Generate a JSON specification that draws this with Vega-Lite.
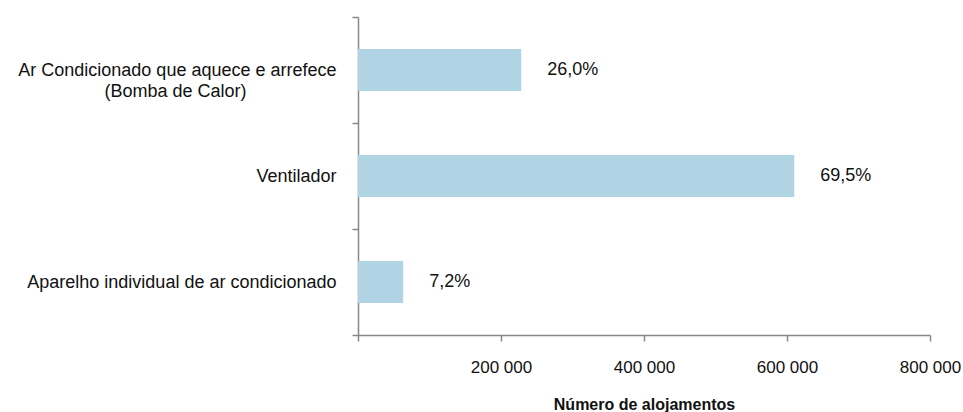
{
  "$schema": "https://vega.github.io/schema/vega-lite/v6.json",
  "autosize": {"type": "none"},
  "width": 572,
  "height": 318,
  "padding": {"left": 358, "top": 17, "right": 33, "bottom": 77},
  "background": "white",
  "config": {
    "view": {"stroke": null},
    "font": "Liberation Sans"
  },
  "data": {
    "values": [
      {"tipo": "Ar Condicionado que aquece e arrefece|(Bomba de Calor)\u00a0\u00a0\u00a0\u00a0\u00a0\u00a0\u00a0\u00a0\u00a0\u00a0\u00a0\u00a0\u00a0\u00a0\u00a0\u00a0\u00a0\u00a0\u200b", "alojamentos": 228300, "pct": "26,0%"},
      {"tipo": "Ventilador", "alojamentos": 610200, "pct": "69,5%"},
      {"tipo": "Aparelho individual de ar condicionado", "alojamentos": 63200, "pct": "7,2%"}
    ]
  },
  "encoding": {
    "y": {
      "field": "tipo",
      "type": "nominal",
      "sort": null,
      "scale": {"paddingInner": 0, "paddingOuter": 0},
      "axis": {
        "title": null,
        "domainColor": "#888888",
        "domainWidth": 1.5,
        "tickColor": "#888888",
        "tickWidth": 1.5,
        "tickSize": 6,
        "tickBand": "extent",
        "labelFontSize": 18,
        "labelColor": "#111111",
        "labelLimit": 400,
        "labelExpr": "datum.value ? split(datum.value, '|') : ''",
        "labelPadding": 16,
        "labelLineHeight": 21
      }
    }
  },
  "layer": [
    {
      "mark": {"type": "bar", "color": "#b0d4e3", "size": 42},
      "encoding": {
        "x": {
          "field": "alojamentos",
          "type": "quantitative",
          "scale": {"domain": [0, 800000]},
          "axis": {
            "title": "Número de alojamentos",
            "titleFontSize": 16,
            "titleFontWeight": "bold",
            "titleColor": "#111111",
            "titlePadding": 21,
            "values": [0, 200000, 400000, 600000, 800000],
            "labelExpr": "datum.value == 0 ? '' : format(datum.value / 1000, 'd') + ' 000'",
            "labelFontSize": 17,
            "labelColor": "#111111",
            "labelPadding": 18,
            "labelFlush": false,
            "labelOverlap": false,
            "grid": false,
            "domainColor": "#888888",
            "domainWidth": 1.5,
            "tickColor": "#888888",
            "tickWidth": 1.5,
            "tickSize": 6
          }
        }
      }
    },
    {
      "mark": {"type": "text", "align": "left", "dx": 26, "fontSize": 18, "color": "#111111"},
      "encoding": {
        "x": {"field": "alojamentos", "type": "quantitative"},
        "text": {"field": "pct"}
      }
    }
  ]
}
